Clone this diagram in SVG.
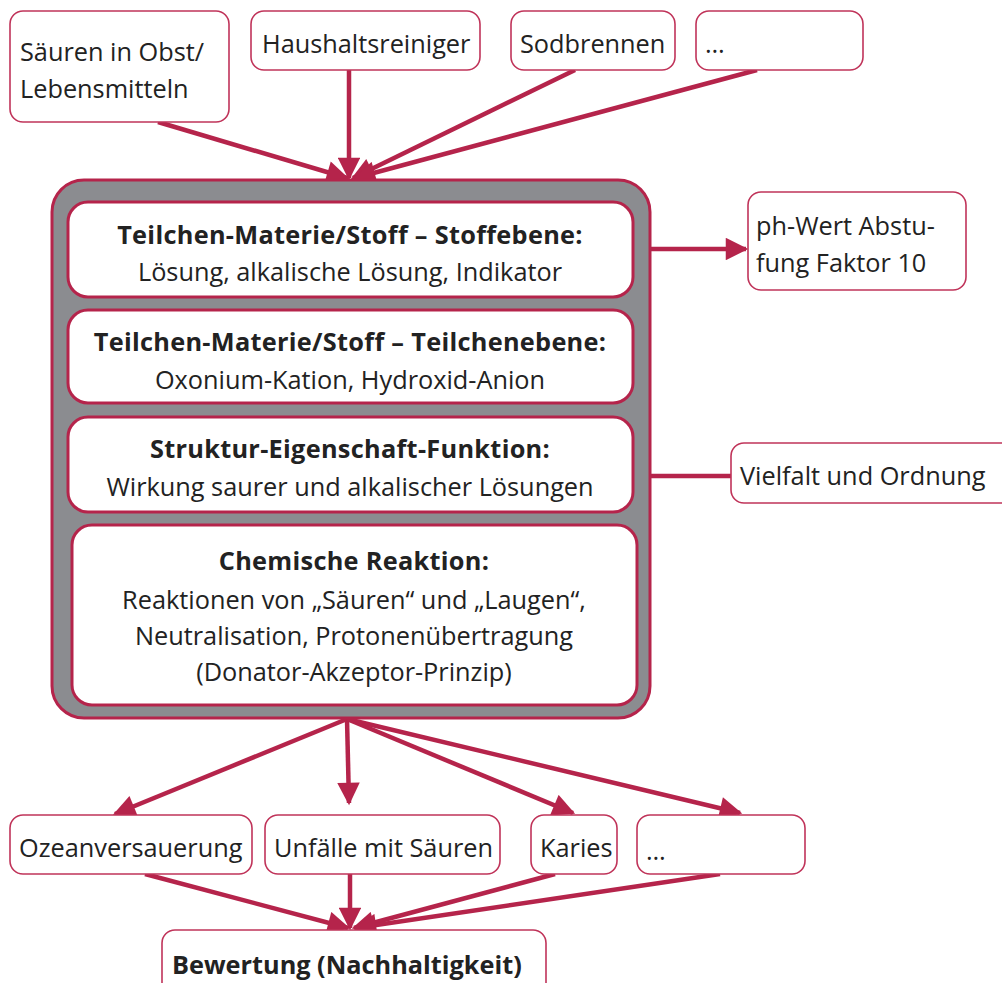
<svg xmlns="http://www.w3.org/2000/svg" width="1002" height="983" viewBox="0 0 1002 983">
<defs>
<style>
.n{fill:#fff;stroke:#c0345a;stroke-width:1.6}
.in{fill:#fff;stroke:#b5244b;stroke-width:3}
.t{font-family:"Open Sans","Noto Sans",sans-serif;font-size:25.3px;fill:#222}
.b{font-weight:bold}
.s{letter-spacing:0.3px}
.c{stroke:#b5244b;stroke-width:4.5;fill:none}
</style>
<marker id="a" viewBox="0 0 10 10" refX="9" refY="5" markerWidth="5.5" markerHeight="5" orient="auto" markerUnits="strokeWidth">
<path d="M0,0 L10,5 L0,10 z" fill="#b5244b"/>
</marker>
</defs>
<rect width="1002" height="983" fill="#fff"/>
<g id="connectors">
<line class="c" x1="158" y1="122" x2="347" y2="178" marker-end="url(#a)"/>
<line class="c" x1="349" y1="70" x2="349" y2="178" marker-end="url(#a)"/>
<line class="c" x1="575" y1="70" x2="353" y2="178" marker-end="url(#a)"/>
<line class="c" x1="757" y1="70" x2="355" y2="178" marker-end="url(#a)"/>
<line class="c" x1="650" y1="249" x2="746" y2="249" marker-end="url(#a)"/>
<line class="c" x1="650" y1="476" x2="731" y2="476"/>
<line class="c" x1="347" y1="719" x2="115" y2="814" marker-end="url(#a)"/>
<line class="c" x1="347" y1="719" x2="349" y2="803" marker-end="url(#a)"/>
<line class="c" x1="347" y1="719" x2="573" y2="813" marker-end="url(#a)"/>
<line class="c" x1="347" y1="719" x2="740" y2="813" marker-end="url(#a)"/>
<line class="c" x1="145" y1="874" x2="348" y2="928" marker-end="url(#a)"/>
<line class="c" x1="350" y1="874" x2="350" y2="928" marker-end="url(#a)"/>
<line class="c" x1="555" y1="874" x2="354" y2="928" marker-end="url(#a)"/>
<line class="c" x1="720" y1="874" x2="356" y2="928" marker-end="url(#a)"/>
</g>
<g id="n-saeuren"><rect class="n" x="10" y="11" width="219" height="111" rx="13"/>
<text class="t" x="20" y="61">Säuren in Obst/</text><text class="t" x="20" y="98">Lebensmitteln</text></g>
<g id="n-haushalt"><rect class="n" x="251" y="11" width="229" height="59" rx="13"/>
<text class="t" x="262" y="53">Haushaltsreiniger</text></g>
<g id="n-sodbrennen"><rect class="n" x="511" y="11" width="164" height="59" rx="13"/>
<text class="t" x="520" y="53">Sodbrennen</text></g>
<g id="n-etc1"><rect class="n" x="696" y="11" width="167" height="59" rx="13"/>
<text class="t" x="705" y="53">…</text></g>
<g id="n-main">
<rect x="52" y="180" width="598" height="538" rx="32" fill="#8b8c90" stroke="#b5244b" stroke-width="3"/>
<rect class="in" x="68" y="202" width="565" height="95" rx="20"/>
<text class="t b s" x="350" y="244" text-anchor="middle">Teilchen-Materie/Stoff – Stoffebene:</text>
<text class="t" x="350" y="281" text-anchor="middle">Lösung, alkalische Lösung, Indikator</text>
<rect class="in" x="68" y="310" width="565" height="93" rx="20"/>
<text class="t b s" x="350" y="351" text-anchor="middle">Teilchen-Materie/Stoff – Teilchenebene:</text>
<text class="t" x="350" y="389" text-anchor="middle">Oxonium-Kation, Hydroxid-Anion</text>
<rect class="in" x="68" y="417" width="565" height="95" rx="20"/>
<text class="t b s" x="350" y="458" text-anchor="middle">Struktur-Eigenschaft-Funktion:</text>
<text class="t" x="350" y="496" text-anchor="middle">Wirkung saurer und alkalischer Lösungen</text>
<rect class="in" x="72" y="525" width="565" height="180" rx="20"/>
<text class="t b s" x="354" y="570" text-anchor="middle">Chemische Reaktion:</text>
<text class="t" x="354" y="609" text-anchor="middle">Reaktionen von „Säuren“ und „Laugen“,</text>
<text class="t" x="354" y="645" text-anchor="middle">Neutralisation, Protonenübertragung</text>
<text class="t" x="354" y="681" text-anchor="middle">(Donator-Akzeptor-Prinzip)</text>
</g>
<g id="n-ph"><rect class="n" x="748" y="192" width="218" height="98" rx="13"/>
<text class="t" x="756" y="235">ph-Wert Abstu-</text><text class="t" x="756" y="272">fung Faktor 10</text></g>
<g id="n-vielfalt"><rect class="n" x="731" y="443" width="290" height="60" rx="13"/>
<text class="t" x="740" y="485">Vielfalt und Ordnung</text></g>
<g id="n-ozean"><rect class="n" x="10" y="815" width="242" height="59" rx="13"/>
<text class="t" x="19" y="857">Ozeanversauerung</text></g>
<g id="n-unfaelle"><rect class="n" x="265" y="815" width="235" height="59" rx="13"/>
<text class="t" x="274" y="857">Unfälle mit Säuren</text></g>
<g id="n-karies"><rect class="n" x="531" y="815" width="86" height="59" rx="13"/>
<text class="t" x="540" y="857">Karies</text></g>
<g id="n-etc2"><rect class="n" x="637" y="815" width="168" height="59" rx="13"/>
<text class="t" x="646" y="860">…</text></g>
<g id="n-bewertung"><rect class="n" x="162" y="930" width="384" height="70" rx="13"/>
<text class="t b" x="172" y="974">Bewertung (Nachhaltigkeit)</text></g>
</svg>
